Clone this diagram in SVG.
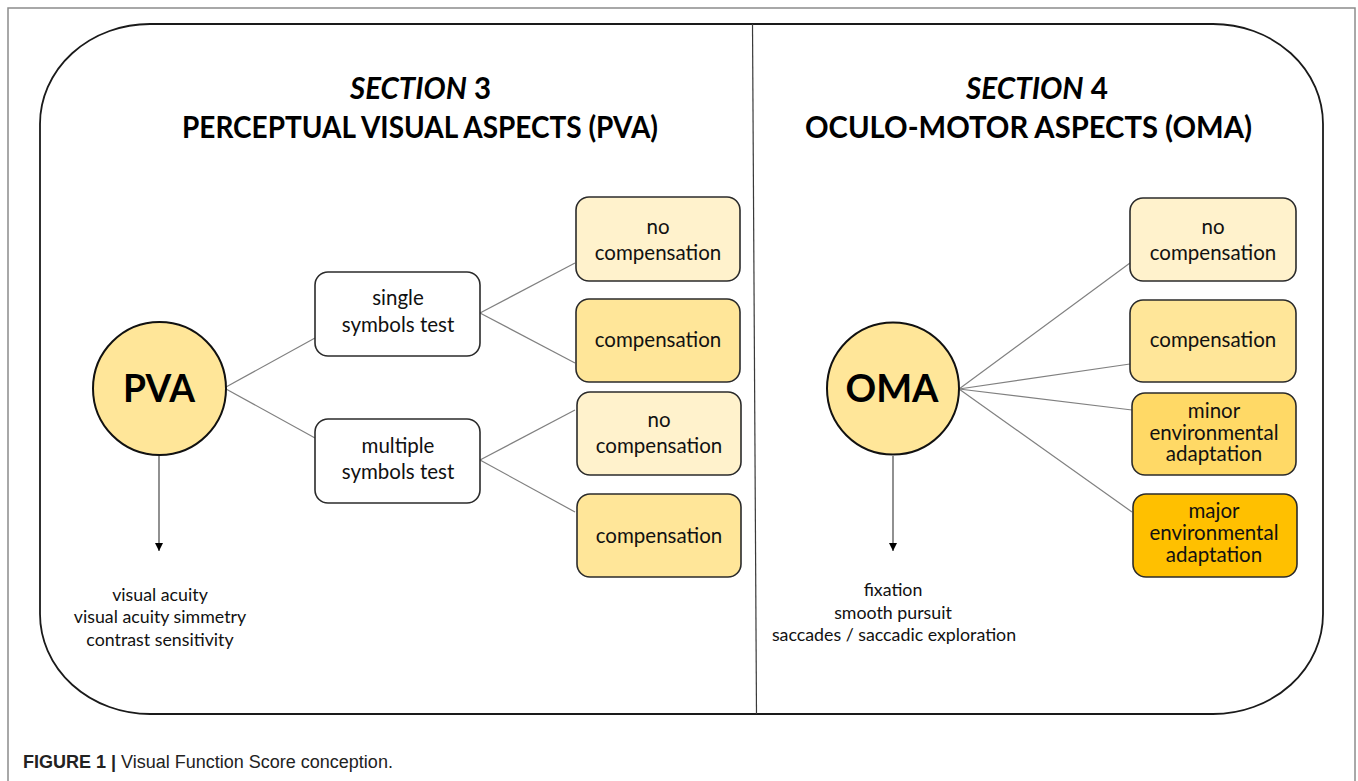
<svg xmlns="http://www.w3.org/2000/svg" width="1358" height="781" viewBox="0 0 1358 781">
<style>
.frame{fill:none;stroke:#8c8c8c;stroke-width:1.5}
.outer{fill:none;stroke:#1a1a1a;stroke-width:1.8}
.divider{stroke:#3a3a3a;stroke-width:1.2}
.title{font-family:Lato,"Liberation Sans",sans-serif;font-weight:700;font-size:30px;fill:#000}
.circ{fill:#FFE699;stroke:#111;stroke-width:2}
.big{font-family:Lato,"Liberation Sans",sans-serif;font-weight:700;font-size:39px;fill:#000;text-anchor:middle}
.box{stroke:#2b2b2b;stroke-width:1.6}
.w{fill:#ffffff}
.l1{fill:#FFF2CC}
.l2{fill:#FFE699}
.l3{fill:#FFD966}
.l4{fill:#FFC000}
.t{font-family:Lato,"Liberation Sans",sans-serif;font-size:20.5px;fill:#111;text-anchor:middle}
.lst{font-family:Lato,"Liberation Sans",sans-serif;font-size:17.8px;fill:#111;text-anchor:middle}
.conn{stroke:#808080;stroke-width:1.2;fill:none}
.arr{stroke:#555;stroke-width:1.3;fill:none}
.cap{font-family:"Liberation Sans",Arial,sans-serif;font-size:18px;fill:#222}
</style>
<defs>
<marker id="ah" markerWidth="8" markerHeight="8" refX="8" refY="4" orient="auto" markerUnits="userSpaceOnUse" viewBox="0 0 8 8">
<path d="M0,0 L8,4 L0,8 Z" fill="#000"/>
</marker>
</defs>
<rect x="0" y="0" width="1358" height="781" fill="#fff"/>
<rect class="frame" x="8" y="8" width="1347" height="790"/>
<g id="container">
<rect class="outer" x="40" y="24" width="1283" height="690" rx="110" ry="100"/>
<line class="divider" x1="752.5" y1="24" x2="756.5" y2="714"/>
</g>
<g id="title-pva">
<text class="title" x="350" y="99" textLength="141" lengthAdjust="spacingAndGlyphs"><tspan font-style="italic">SECTION</tspan> 3</text>
<text class="title" x="182" y="138" textLength="476" lengthAdjust="spacingAndGlyphs">PERCEPTUAL VISUAL ASPECTS (PVA)</text>
</g>
<g id="title-oma">
<text class="title" x="966" y="99" textLength="142" lengthAdjust="spacingAndGlyphs"><tspan font-style="italic">SECTION</tspan> 4</text>
<text class="title" x="805" y="138" textLength="447" lengthAdjust="spacingAndGlyphs">OCULO-MOTOR ASPECTS (OMA)</text>
</g>
<g id="connectors">
<line class="conn" x1="226" y1="387" x2="315" y2="338"/>
<line class="conn" x1="226" y1="389" x2="315" y2="438"/>
<line class="conn" x1="480" y1="313" x2="575" y2="263"/>
<line class="conn" x1="480" y1="313" x2="575" y2="363"/>
<line class="conn" x1="480" y1="460" x2="575" y2="410"/>
<line class="conn" x1="480" y1="460" x2="575" y2="512"/>
<line class="conn" x1="959" y1="389" x2="1130" y2="263"/>
<line class="conn" x1="959" y1="389" x2="1130" y2="364"/>
<line class="conn" x1="959" y1="389" x2="1132" y2="410"/>
<line class="conn" x1="959" y1="389" x2="1132" y2="512"/>
<line class="arr" x1="159" y1="456" x2="159" y2="551" marker-end="url(#ah)"/>
<line class="arr" x1="893" y1="456" x2="893" y2="551" marker-end="url(#ah)"/>
</g>
<g id="pva">
<circle class="circ" cx="159.5" cy="388.5" r="66.5"/>
<text class="big" x="159" y="402" textLength="72" lengthAdjust="spacingAndGlyphs">PVA</text>
</g>
<g id="single">
<rect class="box w" x="315" y="272" width="165" height="84" rx="13"/>
<text class="t" x="398" y="305">single</text>
<text class="t" x="398" y="332">symbols test</text>
</g>
<g id="multiple">
<rect class="box w" x="315" y="419" width="165" height="84" rx="13"/>
<text class="t" x="398" y="453">multiple</text>
<text class="t" x="398" y="479">symbols test</text>
</g>
<g id="pva-single-nocomp">
<rect class="box l1" x="576" y="197" width="164" height="84" rx="13"/>
<text class="t" x="658" y="234">no</text>
<text class="t" x="658" y="260">compensation</text>
</g>
<g id="pva-single-comp">
<rect class="box l2" x="576" y="299" width="164" height="83" rx="13"/>
<text class="t" x="658" y="347">compensation</text>
</g>
<g id="pva-multi-nocomp">
<rect class="box l1" x="577" y="392" width="164" height="83" rx="13"/>
<text class="t" x="659" y="427">no</text>
<text class="t" x="659" y="453">compensation</text>
</g>
<g id="pva-multi-comp">
<rect class="box l2" x="577" y="494" width="164" height="83" rx="13"/>
<text class="t" x="659" y="543">compensation</text>
</g>
<g id="pva-list">
<text class="lst" x="160" y="601">visual acuity</text>
<text class="lst" x="160" y="623">visual acuity simmetry</text>
<text class="lst" x="160" y="646">contrast sensitivity</text>
</g>
<g id="oma">
<circle class="circ" cx="893" cy="388.5" r="66"/>
<text class="big" x="892" y="402" textLength="93" lengthAdjust="spacingAndGlyphs">OMA</text>
</g>
<g id="oma-nocomp">
<rect class="box l1" x="1130" y="198" width="166" height="83" rx="13"/>
<text class="t" x="1213" y="234">no</text>
<text class="t" x="1213" y="260">compensation</text>
</g>
<g id="oma-comp">
<rect class="box l2" x="1130" y="300" width="166" height="82" rx="13"/>
<text class="t" x="1213" y="347">compensation</text>
</g>
<g id="oma-minor">
<rect class="box l3" x="1132" y="393" width="164" height="82" rx="13"/>
<text class="t" x="1214" y="418">minor</text>
<text class="t" x="1214" y="439.5">environmental</text>
<text class="t" x="1214" y="461">adaptation</text>
</g>
<g id="oma-major">
<rect class="box l4" x="1133" y="494" width="164" height="83" rx="13"/>
<text class="t" x="1214" y="518">major</text>
<text class="t" x="1214" y="540">environmental</text>
<text class="t" x="1214" y="562">adaptation</text>
</g>
<g id="oma-list">
<text class="lst" x="893" y="596">fixation</text>
<text class="lst" x="893" y="619">smooth pursuit</text>
<text class="lst" x="894" y="641">saccades / saccadic exploration</text>
</g>
<g id="caption">
<text class="cap" x="23" y="768"><tspan font-weight="700">FIGURE 1 |</tspan> Visual Function Score conception.</text>
</g>
</svg>
